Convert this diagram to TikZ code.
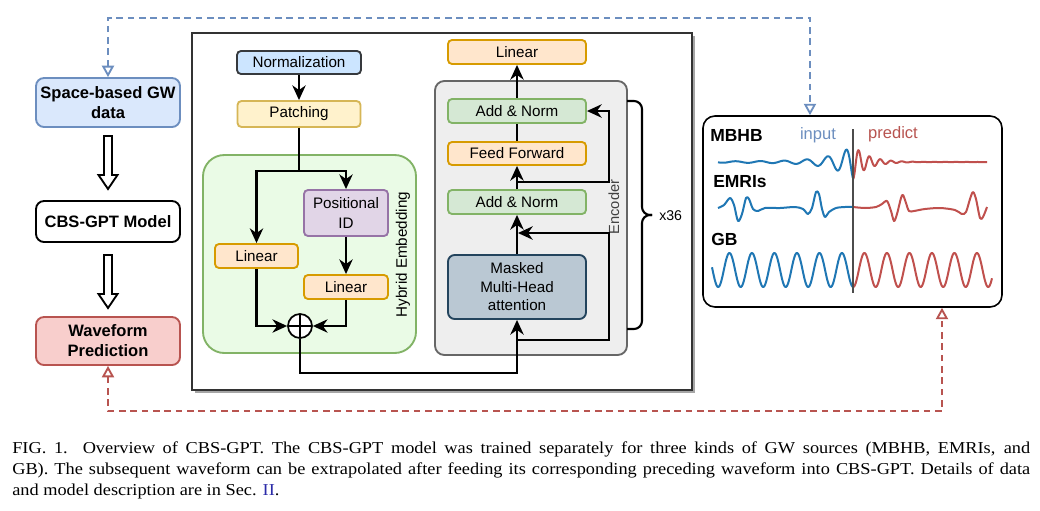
\documentclass[tikz,border=0pt]{standalone}
\usepackage{fontspec}
\setmainfont{Liberation Sans}
\newfontfamily\capfont[FakeStretch=1.1]{Liberation Serif}
\usetikzlibrary{arrows.meta,calc}
\definecolor{bluefill}{HTML}{DAE8FC}\definecolor{blueline}{HTML}{6C8EBF}
\definecolor{redfill}{HTML}{F8CECC}\definecolor{redline}{HTML}{B85450}
\definecolor{normfill}{HTML}{CCE5FF}\definecolor{normline}{HTML}{36393D}
\definecolor{yelfill}{HTML}{FFF2CC}\definecolor{yelline}{HTML}{D6B656}
\definecolor{orfill}{HTML}{FFE6CC}\definecolor{orline}{HTML}{D79B00}
\definecolor{grfill}{HTML}{D5E8D4}\definecolor{grline}{HTML}{82B366}
\definecolor{hybfill}{HTML}{EAFBE6}
\definecolor{purfill}{HTML}{E1D5E7}\definecolor{purline}{HTML}{9673A6}
\definecolor{encfill}{HTML}{EEEEEE}\definecolor{encline}{HTML}{666666}
\definecolor{mhafill}{HTML}{BAC8D3}\definecolor{mhaline}{HTML}{23445D}
\definecolor{wblue}{HTML}{1F77B4}\definecolor{wred}{HTML}{C0504D}
\definecolor{linkblue}{HTML}{2B2BA8}
\tikzset{
  sz/.style 2 args={minimum width=#1*0.75pt, minimum height=#2*0.75pt},
  box/.style={draw, line width=1.4pt, rounded corners=3pt, inner sep=0pt, align=center,
    font=\fontsize{11.4}{14.3}\selectfont},
  boldbox/.style={box, rounded corners=6pt, font=\fontsize{12.4}{15}\selectfont\bfseries},
  arr/.style={line width=1.7pt, -{Stealth[length=11pt,width=10pt,inset=3.5pt]}},
  plain/.style={line width=1.7pt},
  hollow/.style={draw, line width=1.4pt, fill=white},
  wave/.style={line width=1.5pt, line join=round},
  dashline/.style={line width=1.4pt, dash pattern=on 5pt off 3.5pt},
  otri/.style={{Triangle[open,length=8.5pt,width=9pt]}-{Triangle[open,length=8.5pt,width=9pt]}},
  lbl/.style={font=\fontsize{13.1}{15}\selectfont\bfseries, anchor=west, inner sep=0pt},
}
\begin{document}
\begin{tikzpicture}[x=0.75pt,y=-0.75pt]
\useasboundingbox (0,0) rectangle (1040,511);
\fill[white] (0,0) rectangle (1040,511);

% left column
\node[boldbox, sz={144}{49}, fill=bluefill, draw=blueline] (space) at (108,102.5) {Space-based GW\\data};
\node[boldbox, sz={144}{41}, fill=white, draw=black] (cbs) at (108,221.5) {CBS-GPT Model};
\node[boldbox, sz={144}{48}, fill=redfill, draw=redline] (wavep) at (108,341) {Waveform\\Prediction};
\draw[hollow] (104,136) -- (112,136) -- (112,175) -- (117.5,175) -- (108,189) -- (98.5,175) -- (104,175) -- cycle;
\draw[hollow] (104,255) -- (112,255) -- (112,294) -- (117.5,294) -- (108,308) -- (98.5,294) -- (104,294) -- cycle;

% main frame
\fill[black!35] (195,36) rectangle (695,393);
\draw[line width=0.9pt, draw=black!80, fill=white] (192,33) rectangle (692,390);

% hybrid embedding
\node[box, rounded corners=16pt, sz={213}{198}, fill=hybfill, draw=grline] (hyb) at (309.5,254) {};
\node[rotate=90, font=\fontsize{11.4}{14}\selectfont, inner sep=0pt] (hyblbl) at (403,254.5) {Hybrid Embedding};
\node[box, sz={124}{23}, fill=normfill, draw=normline] (norm) at (299,62.5) {Normalization};
\node[box, sz={123}{26}, fill=yelfill, draw=yelline] (patch) at (299,114) {Patching};
\node[box, sz={84}{46}, fill=purfill, draw=purline] (pos) at (346,213) {Positional\\ID};
\node[box, sz={83}{24}, fill=orfill, draw=orline] (lin1) at (256.5,256) {Linear};
\node[box, sz={84}{24}, fill=orfill, draw=orline] (lin2) at (346,287) {Linear};
\node[circle, draw, line width=1.3pt, fill=white, minimum size=24*0.75pt, inner sep=0pt,
  path picture={\draw[line width=1.3pt] (path picture bounding box.north) -- (path picture bounding box.south)
  (path picture bounding box.west) -- (path picture bounding box.east);}] (plus) at (300,326) {};
\coordinate (split) at (299,171);
\draw[arr] (norm) -- (patch);
\draw[plain] (patch.south) -- (split);
\draw[arr] (split) -| (lin1.north);
\draw[arr] (split) -| (pos.north);
\draw[arr] (pos) -- (lin2);
\draw[arr] (lin1.south) |- (plus.west);
\draw[arr] (lin2.south) |- (plus.east);

% encoder
\node[box, rounded corners=7pt, sz={192}{274}, fill=encfill, draw=encline] (enc) at (531,218) {};
\node[rotate=90, font=\fontsize{11}{13}\selectfont, text=black!75, inner sep=0pt] (enclbl) at (614,207) {Encoder};
\node[box, sz={138}{24}, fill=orfill, draw=orline] (lint) at (517,52) {Linear};
\node[box, sz={138}{24}, fill=grfill, draw=grline] (an1) at (517,111) {Add \& Norm};
\node[box, sz={138}{23}, fill=orfill, draw=orline] (ff) at (517,153.5) {Feed Forward};
\node[box, sz={138}{24}, fill=grfill, draw=grline] (an2) at (517,202) {Add \& Norm};
\node[box, rounded corners=5pt, sz={138}{64}, fill=mhafill, draw=mhaline, font=\fontsize{11.4}{13.9}\selectfont] (mha) at (517,287) {Masked\\Multi-Head\\attention};
\coordinate (bend) at (300,373);
\draw[arr] (plus.south) -- (bend) -| (mha.south);
\draw[arr] (mha) -- (an2);
\draw[arr] (an2) -- (ff);
\draw[plain] (ff) -- (an1);
\draw[arr] (an1) -- (lint);
\coordinate (r1a) at (517,340);
\coordinate (r1b) at (609,233);
\coordinate (r1c) at (518,233);
\draw[arr] (r1a) -| (r1b) -- (r1c);
\coordinate (r2a) at (517,182);
\coordinate (r2b) at (609,111);
\draw[arr] (r2a) -| (r2b) -- (an1.east);

% brace
\draw[line width=1.6pt, rounded corners=6pt] (627,101) -| (642,215) -- (652,215);
\draw[line width=1.6pt, rounded corners=6pt] (652,215) -- (642,215) |- (627,329);
\node[anchor=west, inner sep=0pt, font=\fontsize{10.6}{12}\selectfont] (x36) at (659,216) {x36};

% waveform panel
\node[draw, line width=1.2pt, rounded corners=9pt, sz={299}{191}, fill=white] (panel) at (852.5,211.5) {};
\node[lbl] (mbhb) at (710,135) {MBHB};
\node[lbl] (emri) at (713,182) {EMRIs};
\node[lbl] (gb) at (711,239) {GB};
\node[font=\fontsize{12.4}{14}\selectfont, text=blueline, inner sep=0pt] (inp) at (818,135) {input};
\node[font=\fontsize{12.4}{14}\selectfont, text=redline, inner sep=0pt] (pred) at (893,134) {predict};
% MBHB
\draw[wave, wblue] plot[domain=718:853.2, samples=260] (\x, {162 + (16*exp(-(853.25-\x)/22)+0.7)*cos(deg(0.6*(853.25-\x)^0.85))});
\draw[wave, wred] plot[domain=853.2:987, samples=220] (\x, {162 + 17*exp(-(\x-853.2)/15)*cos(deg(0.58*(\x-853.2)))});
% EMRIs
\draw[wave, wblue] plot[smooth] coordinates {(718,208) (724,205) (730,198) (734,205) (738,221) (742,214) (746,198) (749,199) (753,209) (758,211) (765,208) (780,208) (795,207) (803,209) (808,214) (812,208) (816,192) (819,194) (822,209) (825,217) (829,212) (836,208) (845,207) (853,207)};
\draw[wave, wred] plot[smooth] coordinates {(853,207) (865,208) (876,207) (882,204) (887,201) (891,211) (894,221) (897,214) (901,198) (903,195) (906,203) (909,211) (914,211) (925,209) (940,208) (955,210) (962,214) (966,212) (970,199) (973,192) (976,199) (980,218) (983,217) (987,207)};
% GB
\draw[wave, wblue] plot[domain=712:853.2, samples=220] (\x, {270 + 17*cos(16*(\x-853.2))});
\draw[wave, wred] plot[domain=853.2:992, samples=220] (\x, {270 + 17*cos(16*(\x-853.2))});
\draw[line width=0.8pt, black!70] (853,129) -- (853,293);

% dashed feedback lines
\coordinate (bt) at (810,18);
\draw[dashline, blueline, otri] (space.north) |- (bt) -- (bt |- panel.north);
\coordinate (rt) at (942,411);
\draw[dashline, redline, otri] (wavep.south) |- (rt) -- (rt |- panel.south);

% caption
\node[anchor=base west, inner sep=0pt, font=\capfont\fontsize{12.5}{15}\selectfont] (cap1) at (12,453)
 {\makebox[763.5pt][s]{FIG. 1.\hspace{0.9em}Overview of CBS-GPT. The CBS-GPT model was trained separately for three kinds of GW sources (MBHB, EMRIs, and}};
\node[anchor=base west, inner sep=0pt, font=\capfont\fontsize{12.5}{15}\selectfont] (cap2) at (12,474)
 {\makebox[763.5pt][s]{GB). The subsequent waveform can be extrapolated after feeding its corresponding preceding waveform into CBS-GPT. Details of data}};
\node[anchor=base west, inner sep=0pt, font=\capfont\fontsize{12.5}{15}\selectfont] (cap3) at (12,495)
 {and model description are in Sec. \textcolor{linkblue}{II}.};
\end{tikzpicture}
\end{document}
